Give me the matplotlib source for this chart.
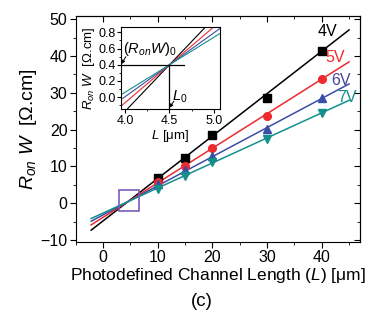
import numpy as np
import matplotlib
matplotlib.use("Agg")
import matplotlib.pyplot as plt
from matplotlib.ticker import MultipleLocator
from matplotlib.patches import Rectangle

plt.rcParams['font.family'] = ['Liberation Sans', 'DejaVu Sans']
plt.rcParams['mathtext.fontset'] = 'custom'
plt.rcParams['mathtext.rm'] = 'Liberation Sans'
plt.rcParams['mathtext.it'] = 'Liberation Sans:italic'

# ---- data ----
voltages = ["4V", "5V", "6V", "7V"]
lengths = [10, 15, 20, 30, 40]
r4 = [6.8, 12.4, 18.4, 28.7, 41.3]
r5 = [5.7, 10.2, 15.0, 23.6, 33.7]
r6 = [5.2, 8.9, 12.7, 20.1, 28.5]
r7 = [3.9, 7.5, 11.1, 17.4, 24.6]
series = [r4, r5, r6, r7]
slopes = [1.152, 0.938, 0.79, 0.68]
L0 = 4.5
R0 = 0.4
colors = ["#000000", "#ee2a2f", "#3a4ea8", "#14908c"]
label_colors = ["#000000", "#ee2a2f", "#44479a", "#14908c"]
markers = ["s", "o", "^", "v"]
label_pos = [(41.1, 46.5), (42.4, 39.6), (43.5, 33.2), (44.6, 28.8)]

fig = plt.figure(figsize=(3.7, 3.22), dpi=100)
ax = fig.add_axes([0.205, 0.25, 0.768, 0.701])

xfit = np.array([-2.2, 45.0])
for ys, m, c, mk, lc, name, (tx, ty) in zip(series, slopes, colors, markers,
                                             label_colors, voltages, label_pos):
    ax.plot(xfit, R0 + m * (xfit - L0), color=c, lw=1.1, zorder=2)
    ax.plot(lengths, ys, ls='none', marker=mk, color=c, ms=5.5, zorder=3)
    ax.text(tx, ty, name, color=lc, fontsize=11.5, ha='center', va='center')

ax.add_patch(Rectangle((2.85, -2.2), 3.65, 5.9, fill=False,
                       edgecolor="#7b5cb8", lw=1.2, zorder=4))

ax.set_xlim(-5, 47)
ax.set_ylim(-10.4, 50.9)
ax.xaxis.set_major_locator(MultipleLocator(10))
ax.xaxis.set_minor_locator(MultipleLocator(5))
ax.yaxis.set_major_locator(MultipleLocator(10))
ax.yaxis.set_minor_locator(MultipleLocator(5))
ax.tick_params(which='both', direction='out', labelsize=11.5, pad=2)
ax.tick_params(which='major', length=4)
ax.tick_params(which='minor', length=2.5)
ax.set_xlabel("Photodefined Channel Length ($L$) [\u03bcm]", fontsize=12.5, labelpad=1)
ax.set_ylabel("$R_{on}$ $W$  [\u03a9.cm]", fontsize=14, labelpad=1)
fig.text(0.546, 0.063, "(c)", fontsize=13.5, ha='center', va='center')

# mirror ticks on top/right inward
ax2 = ax.secondary_xaxis('top')
ax2.xaxis.set_major_locator(MultipleLocator(10))
ax2.xaxis.set_minor_locator(MultipleLocator(5))
ax2.tick_params(which='both', direction='in', labeltop=False)
ax2.tick_params(which='major', length=4)
ax2.tick_params(which='minor', length=2.5)
ax3 = ax.secondary_yaxis('right')
ax3.yaxis.set_major_locator(MultipleLocator(10))
ax3.yaxis.set_minor_locator(MultipleLocator(5))
ax3.tick_params(which='both', direction='in', labelright=False)
ax3.tick_params(which='major', length=4)
ax3.tick_params(which='minor', length=2.5)

# ---- inset ----
ins = fig.add_axes([0.327, 0.6615, 0.268, 0.2555])
xi = np.array([3.9, 5.1])
for m, c in zip(slopes, colors):
    ins.plot(xi, R0 + m * (xi - L0), color=c, lw=0.8)
ins.set_xlim(3.955, 5.07)
ins.set_ylim(-0.146, 0.87)
ins.plot([3.955, 4.66], [R0, R0], color='black', lw=0.9)
ins.plot([L0, L0], [-0.146, R0], color='black', lw=0.9)
ins.xaxis.set_major_locator(MultipleLocator(0.5))
ins.xaxis.set_minor_locator(MultipleLocator(0.25))
ins.yaxis.set_major_locator(MultipleLocator(0.2))
ins.yaxis.set_minor_locator(MultipleLocator(0.1))
ins.tick_params(which='both', direction='out', labelsize=9, pad=1)
ins.tick_params(which='major', length=3)
ins.tick_params(which='minor', length=1.5)
ins.set_xlabel("$L$ [\u03bcm]", fontsize=9.5, labelpad=1)
ins.set_ylabel("$R_{on}$ $W$  [\u03a9.cm]", fontsize=9.5, labelpad=1)
ins.text(3.975, 0.6, "$(R_{on}W)_0$", fontsize=10.5, ha='left', va='center')
ins.annotate("", xy=(3.96, 0.41), xytext=(4.01, 0.5),
             arrowprops=dict(arrowstyle='-|>', lw=0.7, color='black',
                             mutation_scale=5, shrinkA=0, shrinkB=0))
ins.text(4.53, 0.0, "$L_0$", fontsize=10.5, ha='left', va='center')
ins.annotate("", xy=(4.5, -0.13), xytext=(4.55, -0.05),
             arrowprops=dict(arrowstyle='-|>', lw=0.7, color='black',
                             mutation_scale=5, shrinkA=0, shrinkB=0))

fig.savefig("out.png", dpi=100)
